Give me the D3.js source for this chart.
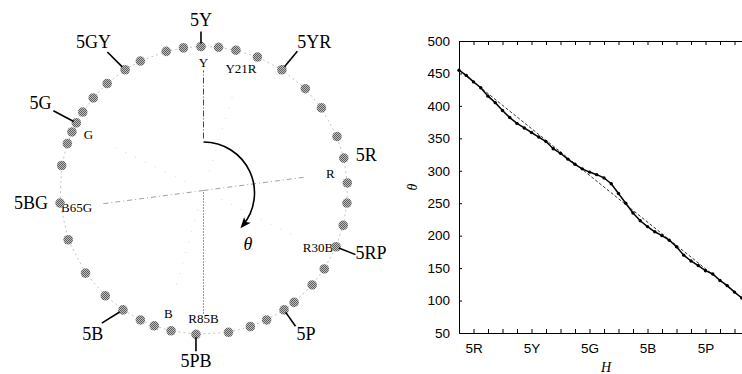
<!DOCTYPE html>
<html>
<head>
<meta charset="utf-8">
<title>Munsell hue angle</title>
<script src="https://d3js.org/d3.v7.min.js"></script>
<style>
  body { margin: 0; background: #fff; }
  svg { display: block; }
  .serif { font-family: "Liberation Serif", "DejaVu Serif", serif; fill: #000; }
  .axis text { font-family: "Liberation Sans", Arial, sans-serif; font-size: 13.5px; fill: #000; }
  .axis path, .axis line { stroke: #000; }
</style>
</head>
<body>
<svg id="chart" width="742" height="374"></svg>
<script>
// Munsell hue H (5 = 5R, 25 = 5Y, ... , 97.5 = 7.5RP), one chip every 2.5
const hue = [0, 2.5, 5, 7.5, 10, 12.5, 15, 17.5, 20, 22.5,
             25, 27.5, 30, 32.5, 35, 37.5, 40, 42.5, 45, 47.5,
             50, 52.5, 55, 57.5, 60, 62.5, 65, 67.5, 70, 72.5,
             75, 77.5, 80, 82.5, 85, 87.5, 90, 92.5, 95, 97.5];
// hue angle theta (degrees, clockwise from the Y axis, unwrapped)
const theta = [455, 447, 437, 428, 415, 405, 393, 382, 373, 366,
               359, 352, 345, 334, 327, 318, 310, 303, 298, 294,
               289, 280, 265, 250, 235, 223, 214, 206, 200, 193,
               183, 170, 161, 154, 146, 141, 131, 123, 113, 104];
// straight reference line
const linearHue = [0, 100];
const linearTheta = [455, 95];

// principal hues named on the circle
const calloutNames = ["5R", "5YR", "5Y", "5GY", "5G", "5BG", "5B", "5PB", "5P", "5RP"];
const calloutHue = [5, 15, 25, 35, 45, 55, 65, 75, 85, 95];

// unique hue axes
const axisNames = ["Y", "Y21R", "R", "R30B", "R85B", "B", "B65G", "G"];
const axisAngle = [0, 17, 82.5, 116.6, 180, 196, 262.5, 296];

// right chart ticks
const hueTicks = [5, 25, 45, 65, 85];
const hueTickLabels = ["5R", "5Y", "5G", "5B", "5P"];
const thetaTicks = [50, 100, 150, 200, 250, 300, 350, 400, 450, 500];

const svg = d3.select("#chart");
const defs = svg.append("defs");

// halftone-looking fill for the chips
const pat = defs.append("pattern").attr("id", "half").attr("width", 2).attr("height", 2)
  .attr("patternUnits", "userSpaceOnUse");
pat.append("rect").attr("width", 2).attr("height", 2).attr("fill", "#bdbdbd");
pat.append("rect").attr("width", 1).attr("height", 1).attr("fill", "#5e5e5e");
pat.append("rect").attr("x", 1).attr("y", 1).attr("width", 1).attr("height", 1).attr("fill", "#5e5e5e");

defs.append("marker").attr("id", "arrow")
  .attr("viewBox", "0 0 10 8").attr("refX", 7).attr("refY", 4)
  .attr("markerWidth", 11).attr("markerHeight", 9)
  .attr("markerUnits", "userSpaceOnUse").attr("orient", "auto")
  .append("path").attr("d", "M0,0 L10,4 L0,8 L2.5,4 Z").attr("fill", "#000");

// ---------- left: hue circle ----------
const cx = 203.5, cy = 190.5, ringR = 144;
const ang = d3.scaleLinear().domain([0, 360]).range([0, 2 * Math.PI]);
const pt = (deg, r) => { const p = d3.pointRadial(ang(deg), r); return [cx + p[0], cy + p[1]]; };

const circle = svg.append("g");

// hue axes through the centre
const axisStyle = {
  "Y":    { r0: 52, r1: 120, stroke: "#333", dash: "6,2,1,2", w: 0.9 },
  "R":    { r0: 0,  r1: 101, stroke: "#888", dash: "5,3,1,3", w: 0.8 },
  "B65G": { r0: 0,  r1: 104, stroke: "#888", dash: "5,3,1,3", w: 0.8 },
  "R85B": { r0: 2,  r1: 124, stroke: "#333", dash: "1,2", w: 1 },
  "Y21R": { r0: 20, r1: 108, stroke: "#c8c8c8", dash: "1,10", w: 0.8 },
  "G":    { r0: 20, r1: 108, stroke: "#c8c8c8", dash: "1,10", w: 0.8 },
  "B":    { r0: 20, r1: 108, stroke: "#c8c8c8", dash: "1,10", w: 0.8 },
  "R30B": { r0: 20, r1: 108, stroke: "#c8c8c8", dash: "1,10", w: 0.8 }
};
axisNames.forEach((name, i) => {
  const s = axisStyle[name];
  const a = pt(axisAngle[i], s.r0), b = pt(axisAngle[i], s.r1);
  circle.append("line")
    .attr("x1", a[0]).attr("y1", a[1]).attr("x2", b[0]).attr("y2", b[1])
    .attr("stroke", s.stroke).attr("stroke-width", s.w).attr("stroke-dasharray", s.dash);
  const t = pt(axisAngle[i], 128);
  circle.append("text").attr("class", "serif")
    .attr("x", t[0]).attr("y", t[1] + 4.5)
    .attr("text-anchor", "middle").attr("font-size", 13)
    .text(name);
});

// faint ring through the chips
circle.append("path")
  .datum(theta)
  .attr("transform", `translate(${cx},${cy})`)
  .attr("d", d3.lineRadial().angle(d => ang(d)).radius(ringR).curve(d3.curveLinearClosed))
  .attr("fill", "none").attr("stroke", "#aaa").attr("stroke-width", 0.7)
  .attr("stroke-dasharray", "2,3");

// the 40 hue chips
circle.selectAll("circle.chip").data(theta).join("circle")
  .attr("class", "chip")
  .attr("cx", d => pt(d, ringR)[0])
  .attr("cy", d => pt(d, ringR)[1])
  .attr("r", 4.8)
  .attr("fill", "url(#half)");

// callouts for the principal hues
const calloutLayout = {
  "5R":  { dir: 0,   l0: 0, l1: 0,  anchor: "start",  dx: 12,  dy: 3 },
  "5YR": { dir: 40,  l0: 4, l1: 24, anchor: "start",  dx: 0,   dy: -3 },
  "5Y":  { dir: 0,   l0: 3, l1: 15, anchor: "middle", dx: 0,   dy: -6 },
  "5GY": { dir: 315, l0: 4, l1: 25, anchor: "middle", dx: -14, dy: -4 },
  "5G":  { dir: 298, l0: 3, l1: 26, anchor: "end",    dx: -2,  dy: -2 },
  "5BG": { dir: 0,   l0: 0, l1: 0,  anchor: "end",    dx: -12, dy: 6 },
  "5B":  { dir: 238, l0: 4, l1: 25, anchor: "middle", dx: -9,  dy: 17 },
  "5PB": { dir: 180, l0: 3, l1: 17, anchor: "middle", dx: 0,   dy: 16 },
  "5P":  { dir: 145, l0: 3, l1: 20, anchor: "start",  dx: 1,   dy: 14 },
  "5RP": { dir: 112, l0: 3, l1: 21, anchor: "start",  dx: 0,   dy: 4 }
};
calloutNames.forEach((name, i) => {
  const L = calloutLayout[name];
  const dot = pt(theta[hue.indexOf(calloutHue[i])], ringR);
  const off = (r) => { const p = d3.pointRadial(ang(L.dir), r); return [dot[0] + p[0], dot[1] + p[1]]; };
  const a = off(L.l0), b = off(L.l1);
  if (L.l1 > 0) {
    circle.append("line")
      .attr("x1", a[0]).attr("y1", a[1]).attr("x2", b[0]).attr("y2", b[1])
      .attr("stroke", "#000").attr("stroke-width", 1.6);
  }
  circle.append("text").attr("class", "serif")
    .attr("x", b[0] + L.dx).attr("y", b[1] + L.dy)
    .attr("text-anchor", L.anchor).attr("font-size", 18)
    .text(name);
});

// theta arrow
const arcPath = d3.path();
arcPath.arc(cx, cy + 2.5, 51, -Math.PI / 2, -Math.PI / 2 + ang(130), false);
circle.append("path").attr("d", arcPath.toString())
  .attr("fill", "none").attr("stroke", "#000").attr("stroke-width", 1.6)
  .attr("marker-end", "url(#arrow)");
circle.append("text").attr("class", "serif")
  .attr("x", 248).attr("y", 250).attr("text-anchor", "middle")
  .attr("font-size", 18).attr("font-style", "italic").text("θ");

// ---------- right: theta versus H ----------
const x = d3.scaleLinear().domain([0, 100]).range([459, 749]);
const y = d3.scaleLinear().domain([50, 500]).range([333, 41]);
const plot = svg.append("g");

plot.append("g").attr("class", "axis")
  .attr("transform", `translate(0,${y(50)})`)
  .call(d3.axisBottom(x).tickValues(d3.range(0, 100, 5)).tickSizeInner(-4).tickSizeOuter(0).tickFormat(""));
plot.append("g").attr("class", "axis")
  .attr("transform", `translate(0,${y(500)})`)
  .call(d3.axisTop(x).tickValues(d3.range(0, 100, 5)).tickSizeInner(-4).tickSizeOuter(0).tickFormat(""));
plot.append("g").attr("class", "axis")
  .attr("transform", `translate(0,${y(50)})`)
  .call(d3.axisBottom(x).tickValues(hueTicks).tickFormat((d, i) => hueTickLabels[i]).tickSize(0).tickPadding(10))
  .call(g => g.select(".domain").remove());
plot.append("g").attr("class", "axis")
  .attr("transform", `translate(${x(0)},0)`)
  .call(d3.axisLeft(y).tickValues(thetaTicks).tickSizeInner(-3).tickSizeOuter(0).tickPadding(9));

plot.append("text").attr("class", "serif")
  .attr("x", 606).attr("y", 372).attr("text-anchor", "middle")
  .attr("font-size", 14).attr("font-style", "italic").text("H");
plot.append("text").attr("class", "serif")
  .attr("transform", `translate(417,187) rotate(-90)`).attr("text-anchor", "middle")
  .attr("font-size", 14).attr("font-style", "italic").text("θ");

// reference straight line
plot.append("path")
  .datum(linearHue.map((h, i) => [h, linearTheta[i]]))
  .attr("d", d3.line().x(d => x(d[0])).y(d => y(d[1])))
  .attr("fill", "none").attr("stroke", "#000").attr("stroke-width", 0.8)
  .attr("stroke-dasharray", "3,2");

// measured angles
plot.append("path")
  .datum(hue.map((h, i) => [h, theta[i]]))
  .attr("d", d3.line().x(d => x(d[0])).y(d => y(d[1])))
  .attr("fill", "none").attr("stroke", "#000").attr("stroke-width", 1.5);
plot.selectAll("circle.pt").data(hue).join("circle")
  .attr("class", "pt")
  .attr("cx", d => x(d))
  .attr("cy", (d, i) => y(theta[i]))
  .attr("r", 1.7).attr("fill", "#000");
</script>
</body>
</html>
